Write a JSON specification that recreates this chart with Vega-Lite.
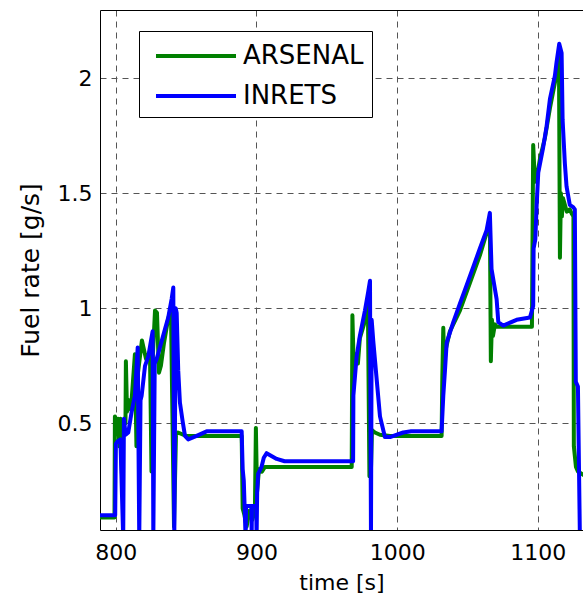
{
  "$schema": "https://vega.github.io/schema/vega-lite/v6.json",
  "width": 483,
  "height": 520,
  "autosize": {"type": "none"},
  "padding": {"left": 100, "top": 10, "right": 0, "bottom": 69},
  "background": "white",
  "config": {
    "view": {"stroke": null},
    "font": "DejaVu Sans",
    "axis": {
      "domainColor": "#000",
      "domainWidth": 1,
      "ticks": false,
      "tickSize": 0,
      "labelFont": "DejaVu Sans",
      "labelFontSize": 22,
      "labelColor": "#000",
      "titleFont": "DejaVu Sans",
      "titleFontWeight": "normal",
      "titleColor": "#000",
      "gridColor": "#555",
      "gridDash": [6, 5],
      "gridWidth": 1,
      "gridOpacity": 1,
      "labelOverlap": false,
      "labelFlush": false
    }
  },
  "data": {
    "values": [
      {"t": 788.8, "v": 0.09, "s": "ARSENAL"},
      {"t": 799.1, "v": 0.09, "s": "ARSENAL"},
      {"t": 799.4, "v": 0.53, "s": "ARSENAL"},
      {"t": 800.9, "v": 0.50, "s": "ARSENAL"},
      {"t": 801.6, "v": 0.52, "s": "ARSENAL"},
      {"t": 802.6, "v": 0.40, "s": "ARSENAL"},
      {"t": 803.3, "v": 0.52, "s": "ARSENAL"},
      {"t": 804.4, "v": 0.28, "s": "ARSENAL"},
      {"t": 805.1, "v": 0.50, "s": "ARSENAL"},
      {"t": 806.9, "v": 0.50, "s": "ARSENAL"},
      {"t": 807.2, "v": 0.77, "s": "ARSENAL"},
      {"t": 808.0, "v": 0.55, "s": "ARSENAL"},
      {"t": 809.4, "v": 0.60, "s": "ARSENAL"},
      {"t": 810.8, "v": 0.56, "s": "ARSENAL"},
      {"t": 812.2, "v": 0.68, "s": "ARSENAL"},
      {"t": 813.6, "v": 0.80, "s": "ARSENAL"},
      {"t": 814.7, "v": 0.40, "s": "ARSENAL"},
      {"t": 815.8, "v": 0.72, "s": "ARSENAL"},
      {"t": 818.6, "v": 0.86, "s": "ARSENAL"},
      {"t": 821.5, "v": 0.78, "s": "ARSENAL"},
      {"t": 824.3, "v": 0.81, "s": "ARSENAL"},
      {"t": 825.4, "v": 0.29, "s": "ARSENAL"},
      {"t": 826.4, "v": 0.80, "s": "ARSENAL"},
      {"t": 827.9, "v": 0.99, "s": "ARSENAL"},
      {"t": 829.3, "v": 0.98, "s": "ARSENAL"},
      {"t": 830.7, "v": 0.72, "s": "ARSENAL"},
      {"t": 832.1, "v": 0.75, "s": "ARSENAL"},
      {"t": 834.3, "v": 0.85, "s": "ARSENAL"},
      {"t": 837.1, "v": 0.95, "s": "ARSENAL"},
      {"t": 839.2, "v": 1.00, "s": "ARSENAL"},
      {"t": 841.4, "v": 0.05, "s": "ARSENAL"},
      {"t": 842.8, "v": 0.45, "s": "ARSENAL"},
      {"t": 844.2, "v": 0.46, "s": "ARSENAL"},
      {"t": 850.0, "v": 0.445, "s": "ARSENAL"},
      {"t": 889.5, "v": 0.445, "s": "ARSENAL"},
      {"t": 890.2, "v": 0.13, "s": "ARSENAL"},
      {"t": 891.5, "v": 0.10, "s": "ARSENAL"},
      {"t": 893.0, "v": 0.05, "s": "ARSENAL"},
      {"t": 895.0, "v": 0.12, "s": "ARSENAL"},
      {"t": 897.0, "v": 0.08, "s": "ARSENAL"},
      {"t": 898.9, "v": 0.12, "s": "ARSENAL"},
      {"t": 899.6, "v": 0.48, "s": "ARSENAL"},
      {"t": 900.4, "v": 0.20, "s": "ARSENAL"},
      {"t": 901.8, "v": 0.30, "s": "ARSENAL"},
      {"t": 903.9, "v": 0.29, "s": "ARSENAL"},
      {"t": 906.0, "v": 0.31, "s": "ARSENAL"},
      {"t": 967.7, "v": 0.31, "s": "ARSENAL"},
      {"t": 968.2, "v": 0.97, "s": "ARSENAL"},
      {"t": 969.3, "v": 0.70, "s": "ARSENAL"},
      {"t": 970.7, "v": 0.80, "s": "ARSENAL"},
      {"t": 972.1, "v": 0.76, "s": "ARSENAL"},
      {"t": 973.5, "v": 0.87, "s": "ARSENAL"},
      {"t": 976.4, "v": 0.93, "s": "ARSENAL"},
      {"t": 979.2, "v": 1.02, "s": "ARSENAL"},
      {"t": 980.3, "v": 0.27, "s": "ARSENAL"},
      {"t": 981.4, "v": 0.30, "s": "ARSENAL"},
      {"t": 982.1, "v": 0.47, "s": "ARSENAL"},
      {"t": 984.2, "v": 0.46, "s": "ARSENAL"},
      {"t": 987.8, "v": 0.45, "s": "ARSENAL"},
      {"t": 994.9, "v": 0.445, "s": "ARSENAL"},
      {"t": 1031.6, "v": 0.445, "s": "ARSENAL"},
      {"t": 1032.1, "v": 0.70, "s": "ARSENAL"},
      {"t": 1032.8, "v": 0.915, "s": "ARSENAL"},
      {"t": 1033.5, "v": 0.75, "s": "ARSENAL"},
      {"t": 1034.5, "v": 0.82, "s": "ARSENAL"},
      {"t": 1037.5, "v": 0.90, "s": "ARSENAL"},
      {"t": 1044.6, "v": 0.99, "s": "ARSENAL"},
      {"t": 1051.7, "v": 1.11, "s": "ARSENAL"},
      {"t": 1058.8, "v": 1.23, "s": "ARSENAL"},
      {"t": 1065.2, "v": 1.36, "s": "ARSENAL"},
      {"t": 1065.9, "v": 1.39, "s": "ARSENAL"},
      {"t": 1066.6, "v": 0.77, "s": "ARSENAL"},
      {"t": 1067.4, "v": 0.95, "s": "ARSENAL"},
      {"t": 1068.1, "v": 0.88, "s": "ARSENAL"},
      {"t": 1069.5, "v": 0.93, "s": "ARSENAL"},
      {"t": 1070.9, "v": 0.92, "s": "ARSENAL"},
      {"t": 1095.8, "v": 0.92, "s": "ARSENAL"},
      {"t": 1096.1, "v": 1.20, "s": "ARSENAL"},
      {"t": 1096.7, "v": 1.71, "s": "ARSENAL"},
      {"t": 1097.9, "v": 1.55, "s": "ARSENAL"},
      {"t": 1099.3, "v": 1.57, "s": "ARSENAL"},
      {"t": 1101.5, "v": 1.65, "s": "ARSENAL"},
      {"t": 1105.0, "v": 1.74, "s": "ARSENAL"},
      {"t": 1108.6, "v": 1.87, "s": "ARSENAL"},
      {"t": 1112.1, "v": 1.98, "s": "ARSENAL"},
      {"t": 1114.3, "v": 2.05, "s": "ARSENAL"},
      {"t": 1115.0, "v": 2.10, "s": "ARSENAL"},
      {"t": 1115.7, "v": 1.22, "s": "ARSENAL"},
      {"t": 1116.4, "v": 1.50, "s": "ARSENAL"},
      {"t": 1117.1, "v": 1.40, "s": "ARSENAL"},
      {"t": 1117.8, "v": 1.48, "s": "ARSENAL"},
      {"t": 1119.2, "v": 1.45, "s": "ARSENAL"},
      {"t": 1120.6, "v": 1.42, "s": "ARSENAL"},
      {"t": 1122.7, "v": 1.43, "s": "ARSENAL"},
      {"t": 1124.2, "v": 1.41, "s": "ARSENAL"},
      {"t": 1125.3, "v": 1.40, "s": "ARSENAL"},
      {"t": 1125.6, "v": 0.40, "s": "ARSENAL"},
      {"t": 1127.1, "v": 0.31, "s": "ARSENAL"},
      {"t": 1128.5, "v": 0.29, "s": "ARSENAL"},
      {"t": 1134.0, "v": 0.27, "s": "ARSENAL"},
      {"t": 788.8, "v": 0.10, "s": "INRETS"},
      {"t": 799.6, "v": 0.10, "s": "INRETS"},
      {"t": 800.1, "v": 0.41, "s": "INRETS"},
      {"t": 801.2, "v": 0.42, "s": "INRETS"},
      {"t": 803.3, "v": 0.43, "s": "INRETS"},
      {"t": 805.3, "v": 0.0, "s": "INRETS"},
      {"t": 805.8, "v": 0.52, "s": "INRETS"},
      {"t": 807.0, "v": 0.45, "s": "INRETS"},
      {"t": 808.9, "v": 0.46, "s": "INRETS"},
      {"t": 811.3, "v": 0.55, "s": "INRETS"},
      {"t": 813.6, "v": 0.62, "s": "INRETS"},
      {"t": 815.6, "v": 0.83, "s": "INRETS"},
      {"t": 816.7, "v": 0.0, "s": "INRETS"},
      {"t": 817.6, "v": 0.60, "s": "INRETS"},
      {"t": 818.4, "v": 0.62, "s": "INRETS"},
      {"t": 820.8, "v": 0.75, "s": "INRETS"},
      {"t": 823.1, "v": 0.79, "s": "INRETS"},
      {"t": 826.2, "v": 0.90, "s": "INRETS"},
      {"t": 826.7, "v": 0.0, "s": "INRETS"},
      {"t": 827.7, "v": 0.76, "s": "INRETS"},
      {"t": 829.1, "v": 0.78, "s": "INRETS"},
      {"t": 831.4, "v": 0.83, "s": "INRETS"},
      {"t": 835.0, "v": 0.91, "s": "INRETS"},
      {"t": 837.3, "v": 0.96, "s": "INRETS"},
      {"t": 839.7, "v": 1.04, "s": "INRETS"},
      {"t": 840.9, "v": 1.09, "s": "INRETS"},
      {"t": 841.6, "v": 0.0, "s": "INRETS"},
      {"t": 842.6, "v": 1.00, "s": "INRETS"},
      {"t": 843.3, "v": 0.98, "s": "INRETS"},
      {"t": 844.4, "v": 0.73, "s": "INRETS"},
      {"t": 845.6, "v": 0.59, "s": "INRETS"},
      {"t": 847.5, "v": 0.51, "s": "INRETS"},
      {"t": 849.2, "v": 0.445, "s": "INRETS"},
      {"t": 851.5, "v": 0.43, "s": "INRETS"},
      {"t": 857.5, "v": 0.445, "s": "INRETS"},
      {"t": 864.6, "v": 0.465, "s": "INRETS"},
      {"t": 889.5, "v": 0.465, "s": "INRETS"},
      {"t": 890.2, "v": 0.30, "s": "INRETS"},
      {"t": 891.0, "v": 0.25, "s": "INRETS"},
      {"t": 892.3, "v": 0.0, "s": "INRETS"},
      {"t": 892.6, "v": 0.14, "s": "INRETS"},
      {"t": 896.4, "v": 0.14, "s": "INRETS"},
      {"t": 896.6, "v": 0.0, "s": "INRETS"},
      {"t": 896.8, "v": 0.14, "s": "INRETS"},
      {"t": 899.8, "v": 0.14, "s": "INRETS"},
      {"t": 900.1, "v": 0.0, "s": "INRETS"},
      {"t": 900.5, "v": 0.20, "s": "INRETS"},
      {"t": 901.2, "v": 0.28, "s": "INRETS"},
      {"t": 903.6, "v": 0.31, "s": "INRETS"},
      {"t": 905.2, "v": 0.35, "s": "INRETS"},
      {"t": 907.2, "v": 0.37, "s": "INRETS"},
      {"t": 914.4, "v": 0.345, "s": "INRETS"},
      {"t": 920.0, "v": 0.335, "s": "INRETS"},
      {"t": 968.7, "v": 0.335, "s": "INRETS"},
      {"t": 968.9, "v": 0.62, "s": "INRETS"},
      {"t": 971.2, "v": 0.79, "s": "INRETS"},
      {"t": 973.5, "v": 0.88, "s": "INRETS"},
      {"t": 977.1, "v": 0.99, "s": "INRETS"},
      {"t": 979.4, "v": 1.07, "s": "INRETS"},
      {"t": 980.7, "v": 1.12, "s": "INRETS"},
      {"t": 981.4, "v": 0.0, "s": "INRETS"},
      {"t": 981.9, "v": 0.95, "s": "INRETS"},
      {"t": 983.0, "v": 0.86, "s": "INRETS"},
      {"t": 985.9, "v": 0.66, "s": "INRETS"},
      {"t": 987.8, "v": 0.53, "s": "INRETS"},
      {"t": 991.3, "v": 0.44, "s": "INRETS"},
      {"t": 994.9, "v": 0.44, "s": "INRETS"},
      {"t": 1004.3, "v": 0.46, "s": "INRETS"},
      {"t": 1010.0, "v": 0.465, "s": "INRETS"},
      {"t": 1031.6, "v": 0.465, "s": "INRETS"},
      {"t": 1032.8, "v": 0.62, "s": "INRETS"},
      {"t": 1034.0, "v": 0.73, "s": "INRETS"},
      {"t": 1035.2, "v": 0.85, "s": "INRETS"},
      {"t": 1039.9, "v": 0.94, "s": "INRETS"},
      {"t": 1044.6, "v": 1.02, "s": "INRETS"},
      {"t": 1049.4, "v": 1.10, "s": "INRETS"},
      {"t": 1054.1, "v": 1.18, "s": "INRETS"},
      {"t": 1058.8, "v": 1.26, "s": "INRETS"},
      {"t": 1063.6, "v": 1.34, "s": "INRETS"},
      {"t": 1065.9, "v": 1.415, "s": "INRETS"},
      {"t": 1067.1, "v": 1.17, "s": "INRETS"},
      {"t": 1070.7, "v": 1.04, "s": "INRETS"},
      {"t": 1071.9, "v": 0.94, "s": "INRETS"},
      {"t": 1075.4, "v": 0.925, "s": "INRETS"},
      {"t": 1084.9, "v": 0.95, "s": "INRETS"},
      {"t": 1094.4, "v": 0.96, "s": "INRETS"},
      {"t": 1096.7, "v": 1.01, "s": "INRETS"},
      {"t": 1097.0, "v": 1.26, "s": "INRETS"},
      {"t": 1098.2, "v": 1.30, "s": "INRETS"},
      {"t": 1099.1, "v": 1.44, "s": "INRETS"},
      {"t": 1100.3, "v": 1.59, "s": "INRETS"},
      {"t": 1103.8, "v": 1.70, "s": "INRETS"},
      {"t": 1106.2, "v": 1.79, "s": "INRETS"},
      {"t": 1108.6, "v": 1.91, "s": "INRETS"},
      {"t": 1112.1, "v": 2.01, "s": "INRETS"},
      {"t": 1113.3, "v": 2.07, "s": "INRETS"},
      {"t": 1115.2, "v": 2.15, "s": "INRETS"},
      {"t": 1116.9, "v": 2.11, "s": "INRETS"},
      {"t": 1117.6, "v": 1.82, "s": "INRETS"},
      {"t": 1119.2, "v": 1.63, "s": "INRETS"},
      {"t": 1120.4, "v": 1.53, "s": "INRETS"},
      {"t": 1122.7, "v": 1.45, "s": "INRETS"},
      {"t": 1125.1, "v": 1.44, "s": "INRETS"},
      {"t": 1126.3, "v": 1.43, "s": "INRETS"},
      {"t": 1127.0, "v": 0.68, "s": "INRETS"},
      {"t": 1128.5, "v": 0.66, "s": "INRETS"},
      {"t": 1129.9, "v": 0.0, "s": "INRETS"}
    ]
  },
  "layer": [
    {
      "mark": {"type": "line", "strokeWidth": 4, "clip": true, "strokeJoin": "round"},
      "encoding": {
        "x": {
          "field": "t",
          "type": "quantitative",
          "scale": {"domain": [788.8, 1132.1], "nice": false, "zero": false},
          "axis": {
            "title": "time [s]",
            "values": [800, 900, 1000, 1100],
            "format": "d",
            "labelPadding": 12,
            "titleFontSize": 22,
            "titlePadding": 9,
            "grid": true
          }
        },
        "y": {
          "field": "v",
          "type": "quantitative",
          "scale": {"domain": [0.036, 2.297], "nice": false, "zero": false},
          "axis": {
            "title": "Fuel rate [g/s]",
            "values": [0.5, 1, 1.5, 2],
            "format": "~g",
            "labelPadding": 8,
            "titleFontSize": 25,
            "titlePadding": 14,
            "grid": true
          }
        },
        "color": {
          "field": "s",
          "type": "nominal",
          "scale": {"domain": ["ARSENAL", "INRETS"], "range": ["#008000", "#0000ff"]},
          "legend": {
            "orient": "none",
            "legendX": 39,
            "legendY": 21,
            "title": null,
            "fillColor": "#fff",
            "strokeColor": "#000",
            "padding": 8,
            "cornerRadius": 0,
            "symbolType": "M-2.667,0H2.667",
            "symbolSize": 900,
            "symbolStrokeWidth": 4,
            "symbolOffset": 32,
            "labelFont": "DejaVu Sans",
            "labelFontSize": 26,
            "labelColor": "#000",
            "labelOffset": 30,
            "rowPadding": 10
          }
        }
      }
    },
    {
      "mark": {"type": "line", "opacity": 0},
      "encoding": {
        "x": {
          "field": "t",
          "type": "quantitative",
          "axis": {"orient": "top", "labels": false, "grid": false, "domain": true, "title": null}
        },
        "y": {"field": "v", "type": "quantitative"}
      }
    }
  ],
  "resolve": {"axis": {"x": "independent"}}
}
